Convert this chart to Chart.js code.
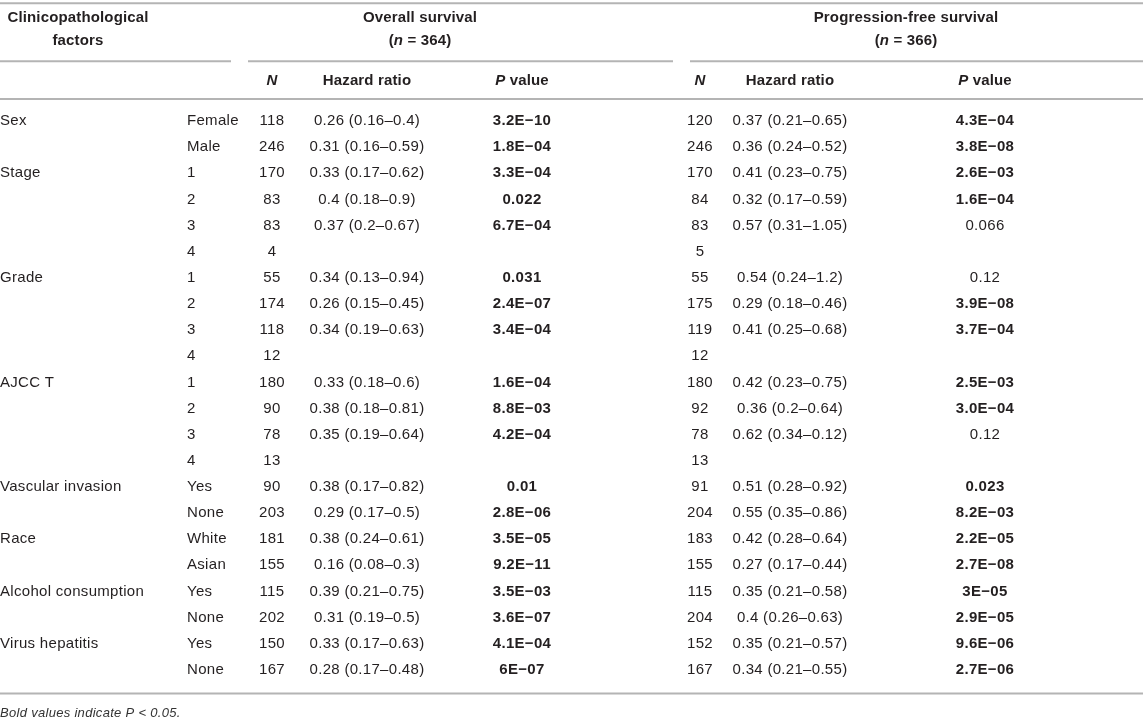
<!DOCTYPE html>
<html>
<head>
<meta charset="utf-8">
<script src="https://cdn.jsdelivr.net/npm/chart.js@4"></script>
<style>
  html, body { margin: 0; padding: 0; background: #fff; }
  #wrap { width: 1143px; height: 724px; position: relative; }
</style>
</head>
<body>
<div id="wrap"><canvas id="tableChart"></canvas></div>
<script>
// table content
const factors = ["Sex", "Stage", "Grade", "AJCC T", "Vascular invasion", "Race", "Alcohol consumption", "Virus hepatitis"];
const factorRowCount = [2, 4, 4, 4, 2, 2, 2, 2];
const subgroups = ["Female", "Male", "1", "2", "3", "4", "1", "2", "3", "4", "1", "2", "3", "4",
  "Yes", "None", "White", "Asian", "Yes", "None", "Yes", "None"];

const osN = [118, 246, 170, 83, 83, 4, 55, 174, 118, 12, 180, 90, 78, 13, 90, 203, 181, 155, 115, 202, 150, 167];
const osHR = ["0.26 (0.16–0.4)", "0.31 (0.16–0.59)", "0.33 (0.17–0.62)", "0.4 (0.18–0.9)", "0.37 (0.2–0.67)", "",
  "0.34 (0.13–0.94)", "0.26 (0.15–0.45)", "0.34 (0.19–0.63)", "",
  "0.33 (0.18–0.6)", "0.38 (0.18–0.81)", "0.35 (0.19–0.64)", "",
  "0.38 (0.17–0.82)", "0.29 (0.17–0.5)", "0.38 (0.24–0.61)", "0.16 (0.08–0.3)",
  "0.39 (0.21–0.75)", "0.31 (0.19–0.5)", "0.33 (0.17–0.63)", "0.28 (0.17–0.48)"];
const osP = ["3.2E−10", "1.8E−04", "3.3E−04", "0.022", "6.7E−04", "", "0.031", "2.4E−07", "3.4E−04", "",
  "1.6E−04", "8.8E−03", "4.2E−04", "", "0.01", "2.8E−06", "3.5E−05", "9.2E−11", "3.5E−03", "3.6E−07", "4.1E−04", "6E−07"];

const pfsN = [120, 246, 170, 84, 83, 5, 55, 175, 119, 12, 180, 92, 78, 13, 91, 204, 183, 155, 115, 204, 152, 167];
const pfsHR = ["0.37 (0.21–0.65)", "0.36 (0.24–0.52)", "0.41 (0.23–0.75)", "0.32 (0.17–0.59)", "0.57 (0.31–1.05)", "",
  "0.54 (0.24–1.2)", "0.29 (0.18–0.46)", "0.41 (0.25–0.68)", "",
  "0.42 (0.23–0.75)", "0.36 (0.2–0.64)", "0.62 (0.34–0.12)", "",
  "0.51 (0.28–0.92)", "0.55 (0.35–0.86)", "0.42 (0.28–0.64)", "0.27 (0.17–0.44)",
  "0.35 (0.21–0.58)", "0.4 (0.26–0.63)", "0.35 (0.21–0.57)", "0.34 (0.21–0.55)"];
const pfsP = ["4.3E−04", "3.8E−08", "2.6E−03", "1.6E−04", "0.066", "", "0.12", "3.9E−08", "3.7E−04", "",
  "2.5E−03", "3.0E−04", "0.12", "", "0.023", "8.2E−03", "2.2E−05", "2.7E−08", "3E−05", "2.9E−05", "9.6E−06", "2.7E−06"];

const footnote = "Bold values indicate P < 0.05.";

// layout: x in pixels across the table, y in row units (data row i sits at y = i)
const colX = { factor: 0, sub: 187, osN: 272, osHR: 367, osP: 522, pfsN: 700, pfsHR: 790, pfsP: 985 };
const rowY = { title1: -3.94, title2: -3.06, head: -1.55, topRule: -4.51, midRule: -2.29, headRule: -0.84, bottomRule: 21.9, note: 22.65 };

const ink = "#231f20";
const rule = "#b4b4b4";
const fontFam = "'Liberation Sans', Arial, Helvetica, sans-serif";

function isSig(p) {
  if (!p) return false;
  return parseFloat(p.replace("−", "-")) < 0.05;
}

const factorStart = [];
factorRowCount.reduce((acc, n) => { factorStart.push(acc); return acc + n; }, 0);

function cells(values, key, boldFn) {
  return values.map((v, i) => ({ x: colX[key], y: i, text: String(v), bold: boldFn ? boldFn(v) : false }));
}

const columns = [
  { key: "factor", align: "left", data: factors.map((f, i) => ({ x: colX.factor, y: factorStart[i], text: f })) },
  { key: "sub", align: "left", data: cells(subgroups, "sub") },
  { key: "osN", align: "center", data: cells(osN, "osN") },
  { key: "osHR", align: "center", data: cells(osHR, "osHR") },
  { key: "osP", align: "center", data: cells(osP, "osP", isSig) },
  { key: "pfsN", align: "center", data: cells(pfsN, "pfsN") },
  { key: "pfsHR", align: "center", data: cells(pfsHR, "pfsHR") },
  { key: "pfsP", align: "center", data: cells(pfsP, "pfsP", isSig) }
];

// draws rich text pieces [{t, b, i}] starting at x, returns width
function pieces(ctx, parts, size, measureOnly, x, y) {
  let w = 0;
  parts.forEach(p => {
    ctx.font = (p.i ? "italic " : "") + (p.b ? "bold " : "") + size + "px " + fontFam;
    if (!measureOnly) ctx.fillText(p.t, x + w, y);
    w += ctx.measureText(p.t).width;
  });
  return w;
}
function richCenter(ctx, parts, size, cx, y) {
  ctx.textAlign = "left";
  const w = pieces(ctx, parts, size, true);
  pieces(ctx, parts, size, false, cx - w / 2, y);
}

const tablePlugin = {
  id: "tableText",
  afterDatasetsDraw(chart) {
    const ctx = chart.ctx;
    const xs = chart.scales.x, ys = chart.scales.y;
    const px = v => xs.getPixelForValue(v);
    const py = v => ys.getPixelForValue(v);
    ctx.save();
    ctx.textBaseline = "middle";
    ctx.fillStyle = ink;
    ctx.letterSpacing = "0.3px";

    // cells
    chart.data.datasets.forEach((ds, di) => {
      const meta = chart.getDatasetMeta(di);
      meta.data.forEach((el, i) => {
        const c = ds.data[i];
        if (!c.text) return;
        ctx.font = (c.bold ? "bold " : "") + "15px " + fontFam;
        ctx.textAlign = ds.align;
        ctx.fillText(c.text, el.x, el.y);
      });
    });

    // header
    ctx.letterSpacing = "0.15px";
    const hs = 15;
    richCenter(ctx, [{ t: "Clinicopathological", b: true }], hs, px(78), py(rowY.title1));
    richCenter(ctx, [{ t: "factors", b: true }], hs, px(78), py(rowY.title2));
    richCenter(ctx, [{ t: "Overall survival", b: true }], hs, px(420), py(rowY.title1));
    richCenter(ctx, [{ t: "(", b: true }, { t: "n", b: true, i: true }, { t: " = 364)", b: true }], hs, px(420), py(rowY.title2));
    richCenter(ctx, [{ t: "Progression-free survival", b: true }], hs, px(906), py(rowY.title1));
    richCenter(ctx, [{ t: "(", b: true }, { t: "n", b: true, i: true }, { t: " = 366)", b: true }], hs, px(906), py(rowY.title2));
    [["osN", "osHR", "osP"], ["pfsN", "pfsHR", "pfsP"]].forEach(g => {
      richCenter(ctx, [{ t: "N", b: true, i: true }], hs, px(colX[g[0]]), py(rowY.head));
      richCenter(ctx, [{ t: "Hazard ratio", b: true }], hs, px(colX[g[1]]), py(rowY.head));
      richCenter(ctx, [{ t: "P", b: true, i: true }, { t: " value", b: true }], hs, px(colX[g[2]]), py(rowY.head));
    });

    // rules
    ctx.strokeStyle = rule;
    ctx.lineWidth = 2;
    const hline = (x0, x1, yv) => {
      ctx.beginPath();
      ctx.moveTo(px(x0), py(yv));
      ctx.lineTo(px(x1), py(yv));
      ctx.stroke();
    };
    hline(0, 1143, rowY.topRule);
    hline(0, 231, rowY.midRule);
    hline(248, 673, rowY.midRule);
    hline(690, 1143, rowY.midRule);
    hline(0, 1143, rowY.headRule);
    hline(0, 1143, rowY.bottomRule);

    // footnote
    ctx.letterSpacing = "0.3px";
    ctx.textAlign = "left";
    ctx.font = "italic 13px " + fontFam;
    ctx.fillStyle = "#333";
    ctx.fillText(footnote, px(0), py(rowY.note));
    ctx.restore();
  }
};

new Chart(document.getElementById("tableChart"), {
  type: "scatter",
  data: {
    datasets: columns.map(c => ({ label: c.key, align: c.align, data: c.data, pointRadius: 0, pointHoverRadius: 0 }))
  },
  options: {
    responsive: true,
    maintainAspectRatio: false,
    animation: false,
    events: [],
    layout: { padding: 0 },
    plugins: { legend: { display: false }, tooltip: { enabled: false } },
    scales: {
      x: { type: "linear", min: 0, max: 1143, display: false },
      y: { type: "linear", min: -4.63, max: 23.07, reverse: true, display: false }
    }
  },
  plugins: [tablePlugin]
});
</script>
</body>
</html>
